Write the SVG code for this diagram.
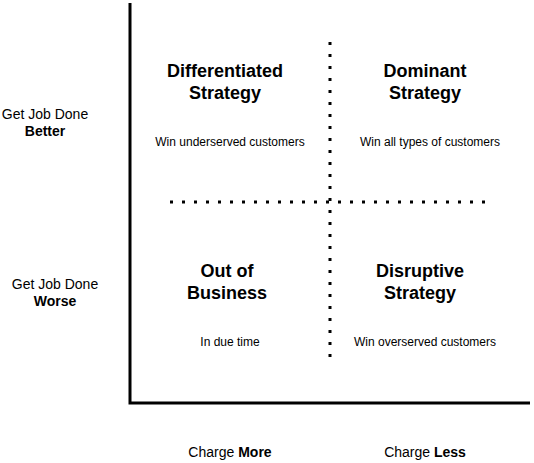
<svg xmlns="http://www.w3.org/2000/svg" width="534" height="463" viewBox="0 0 534 463">
<style>
text{font-family:"Liberation Sans",Arial,sans-serif;fill:#000;text-anchor:middle}
.t{font-size:18px;font-weight:bold}
.s{font-size:12px}
.m{font-size:14px}
.b{font-weight:bold}
.axis{fill:none;stroke:#000;stroke-width:3}
.dot{fill:none;stroke:#000;stroke-width:3;stroke-dasharray:3 9}
</style>
<rect width="534" height="463" fill="#fff"/>
<g id="connectors">
<path class="axis" d="M130 3 V403 H530"/>
<path class="dot" d="M330 42 V358"/>
<path class="dot" d="M170 202 H490"/>
</g>
<g id="q-differentiated">
<text class="t" x="225" y="77">Differentiated</text>
<text class="t" x="225" y="99">Strategy</text>
<text class="s" x="230" y="146">Win underserved customers</text>
</g>
<g id="q-dominant">
<text class="t" x="425" y="77">Dominant</text>
<text class="t" x="425" y="99">Strategy</text>
<text class="s" x="430" y="146">Win all types of customers</text>
</g>
<g id="q-out">
<text class="t" x="227" y="277">Out of</text>
<text class="t" x="227" y="299">Business</text>
<text class="s" x="230" y="346">In due time</text>
</g>
<g id="q-disruptive">
<text class="t" x="420" y="277">Disruptive</text>
<text class="t" x="420" y="299">Strategy</text>
<text class="s" x="425" y="346">Win overserved customers</text>
</g>
<g id="label-better">
<text class="m" x="45" y="119">Get Job Done</text>
<text class="m b" x="45" y="136">Better</text>
</g>
<g id="label-worse">
<text class="m" x="55" y="289">Get Job Done</text>
<text class="m b" x="55" y="306">Worse</text>
</g>
<g id="label-more">
<text class="m" x="230" y="457">Charge <tspan class="b">More</tspan></text>
</g>
<g id="label-less">
<text class="m" x="425" y="457">Charge <tspan class="b">Less</tspan></text>
</g>
</svg>
